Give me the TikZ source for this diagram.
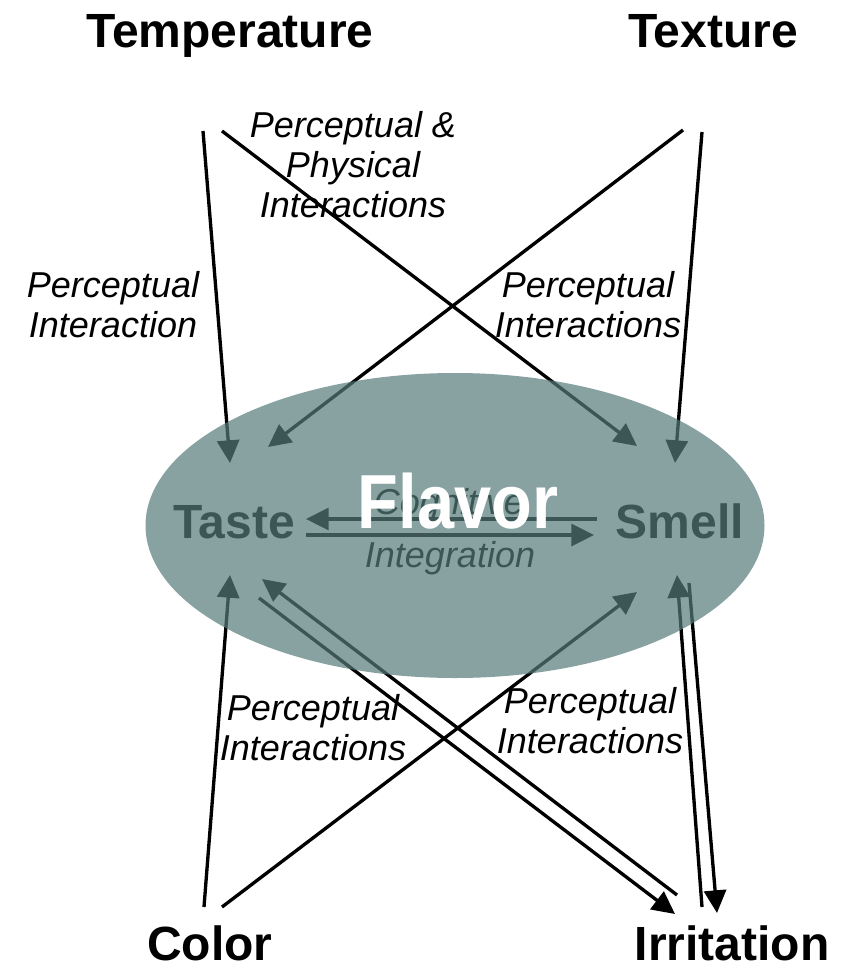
\documentclass[tikz,border=0pt]{standalone}
\usepackage{fontspec}
\setmainfont{Liberation Sans}
\usetikzlibrary{arrows.meta}
\definecolor{flavorfill}{RGB}{86,122,122}
\begin{document}
\begin{tikzpicture}[x=0.75pt,y=-0.75pt,
  head/.style={font=\bfseries\fontsize{36}{40}\selectfont, anchor=base, inner sep=0pt},
  lab/.style={font=\itshape\fontsize{27}{30}\selectfont, align=center, anchor=north, inner sep=0pt},
  inner/.style={font=\itshape\fontsize{27}{30}\selectfont, anchor=base, inner sep=0pt},
  link/.style={line width=2.5pt, -{Triangle[length=17pt,width=16.5pt]}},
]
% canvas
\fill[white] (0,0) rectangle (848,968);
\useasboundingbox (0,0) rectangle (848,968);

% the six senses
\node[head] (temp)  at (230,47)  {Temperature};
\node[head] (tex)   at (713,47)  {Texture};
\node[head] (col)   at (210,960) {Color};
\node[head] (irr)   at (732,960) {Irritation};
\node[head] (taste) at (234,538) {Taste};
\node[head] (smell) at (680,538) {Smell};

% texts between taste and smell
\node[inner] (cog) at (449,514) {Cognitive};
\node[inner] (integ) at (450,567) {Integration};

% arrow ends
\coordinate (tempL) at (203,131);
\coordinate (tempR) at (222,131);
\coordinate (texL)  at (683,130);
\coordinate (texR)  at (702,132);
\coordinate (colL)  at (204,907);
\coordinate (colR)  at (222,907);
\coordinate (irrA)  at (675,914);
\coordinate (irrB)  at (677,895);
\coordinate (irrC)  at (702,907);
\coordinate (irrD)  at (717,913);
\coordinate (tasteN)   at (230,463);
\coordinate (tasteNE)  at (268,447);
\coordinate (tasteS)   at (230,575);
\coordinate (tasteSE)  at (262,579);
\coordinate (tasteSE2) at (259,598);
\coordinate (tasteE1)  at (306,519);
\coordinate (tasteE2)  at (306,535);
\coordinate (smellNW)  at (637,446);
\coordinate (smellN)   at (675,463);
\coordinate (smellSW)  at (637,592);
\coordinate (smellS)   at (677,575);
\coordinate (smellS2)  at (689,583);
\coordinate (smellW1)  at (597,519);
\coordinate (smellW2)  at (594,535);

% connectors
\draw[link] (tempL) -- (tasteN);
\draw[link] (tempR) -- (smellNW);
\draw[link] (texL) -- (tasteNE);
\draw[link] (texR) -- (smellN);
\draw[link] (colL) -- (tasteS);
\draw[link] (colR) -- (smellSW);
\draw[link] (tasteSE2) -- (irrA);
\draw[link] (irrB) -- (tasteSE);
\draw[link] (smellS2) -- (irrD);
\draw[link] (irrC) -- (smellS);
\draw[link] (smellW1) -- (tasteE1);
\draw[link] (tasteE2) -- (smellW2);

% connector labels
\node[lab] (l1) at (353,111) {Perceptual \&\\Physical\\Interactions};
\node[lab] (l2) at (113,271) {Perceptual\\Interaction};
\node[lab] (l3) at (588,271) {Perceptual\\Interactions};
\node[lab] (l4) at (313,694) {Perceptual\\Interactions};
\node[lab] (l5) at (590,687) {Perceptual\\Interactions};

% the flavour cloud
\fill[flavorfill, opacity=0.7] (455,525.5) ellipse [x radius=309.5, y radius=152.5];
\node[font=\bfseries\fontsize{57.5}{60}\selectfont, text=white, anchor=base, inner sep=0pt, xscale=0.87] (flavor) at (458,528) {Flavor};
\end{tikzpicture}
\end{document}
